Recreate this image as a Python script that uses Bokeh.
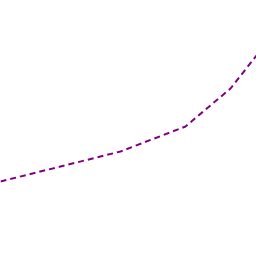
from bokeh.plotting import figure
from bokeh.models import Range1d
from bokeh.embed import file_html
from bokeh.resources import INLINE

x_vals = [0, 60, 120, 185, 230, 256]
y_vals = [75, 90, 105, 130, 168, 201]

p = figure(width=256, height=256, output_backend="svg", toolbar_location=None,
           x_range=Range1d(0, 256), y_range=Range1d(0, 256), min_border=0)
p.axis.visible = False
p.grid.visible = False
p.outline_line_color = None
p.background_fill_color = "white"
p.border_fill_color = "white"
p.line(x_vals, y_vals, line_color="#800080", line_width=2, line_dash="6 4")

open("out.html", "w").write(file_html(p, INLINE))
